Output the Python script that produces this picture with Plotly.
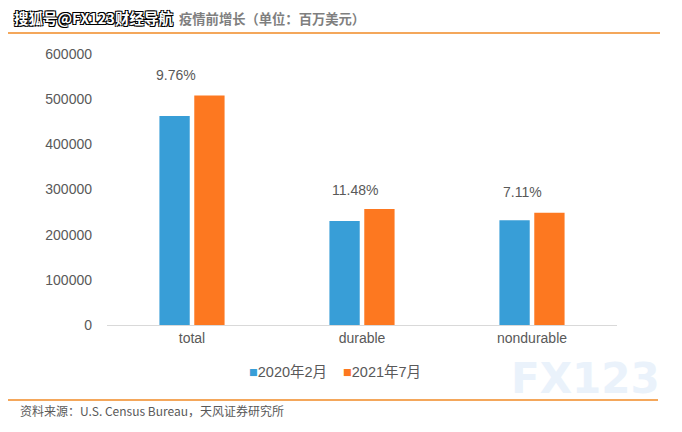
import plotly.graph_objects as go

categories = ["total", "durable", "nondurable"]
series_names = ["2020年2月", "2021年7月"]
feb2020 = [463000, 230500, 232000]
jul2021 = [508200, 257000, 248500]
growth_labels = ["9.76%", "11.48%", "7.11%"]
y_ticks = [0, 100000, 200000, 300000, 400000, 500000, 600000]

title_text = "疫情前增长（单位：百万美元）"
watermark_text = "搜狐号@FX123财经导航"
source_text = "资料来源：U.S. Census Bureau，天风证券研究所"

FONT = "Liberation Sans, Arial, Noto Sans CJK SC, sans-serif"
CJK = "Noto Sans CJK SC, Liberation Sans, sans-serif"
GRAY = "#595959"
BLUE = "#389ed7"
ORANGE = "#fd7820"
colors = [BLUE, ORANGE]

fig = go.Figure()
for name, vals, col in zip(series_names, [feb2020, jul2021], colors):
    fig.add_trace(go.Bar(x=categories, y=vals, name=name,
                         marker=dict(color=col, line=dict(width=0))))

L, R, T, B = 107, 65, 54, 107
W, H = 682, 432
pw, ph = W - L - R, H - T - B

def px(xp):
    return (xp - L) / pw

def py(yp):
    return (H - B - yp) / ph

annotations = []
label_x_shift = [-16, -7, -10]
label_y = [553500, 299000, 294500]
for c, lab, xs, yv in zip(categories, growth_labels, label_x_shift, label_y):
    annotations.append(dict(x=c, y=yv, xref="x", yref="y", text=lab, showarrow=False,
                            xshift=xs, yanchor="middle",
                            font=dict(family=FONT, size=14, color=GRAY)))

# visible part of the title
annotations.append(dict(x=px(177), y=py(18), xref="paper", yref="paper", text="<b>" + title_text + "</b>",
                        showarrow=False, xanchor="left", yanchor="middle",
                        font=dict(family=CJK, size=13.3, color="#7f7f7f")))
# watermark overlay
annotations.append(dict(x=px(12), y=py(17), xref="paper", yref="paper", text="<b>" + watermark_text + "</b>",
                        showarrow=False, xanchor="left", yanchor="middle",
                        font=dict(family=CJK, size=14.5, color="white",
                                  shadow="1px 1px 0 #000, -1px -1px 0 #000, 1px -1px 0 #000, -1px 1px 0 #000")))
# FX123 watermark
annotations.append(dict(x=px(585), y=py(378), xref="paper", yref="paper", text="<b>FX123</b>",
                        showarrow=False, xanchor="center", yanchor="middle",
                        font=dict(family="DejaVu Sans, sans-serif", size=42, color="#eaf2fb")))
# source
annotations.append(dict(x=px(18), y=py(410), xref="paper", yref="paper", text=source_text,
                        showarrow=False, xanchor="left", yanchor="middle",
                        font=dict(family=CJK, size=12, color=GRAY)))
# legend (custom, tight spacing)
legend_x = [247, 341]
for name, col, lx in zip(series_names, colors, legend_x):
    annotations.append(dict(x=px(lx), y=py(372), xref="paper", yref="paper",
                            text=f"<span style='color:{col}'>■</span>{name}",
                            showarrow=False, xanchor="left", yanchor="middle",
                            font=dict(family=FONT, size=14.5, color=GRAY)))

shapes = [
    dict(type="line", xref="paper", yref="paper", x0=px(8), x1=px(660), y0=py(33), y1=py(33),
         line=dict(color="#f08a24", width=1.5)),
    dict(type="line", xref="paper", yref="paper", x0=px(8), x1=px(658), y0=py(400), y1=py(400),
         line=dict(color="#f08a24", width=1.5)),
]

fig.update_layout(
    width=W, height=H,
    margin=dict(l=L, r=R, t=T, b=B, pad=0),
    paper_bgcolor="white", plot_bgcolor="white",
    barmode="group", bargap=0.59, bargroupgap=0.13,
    font=dict(family=FONT, size=14, color=GRAY),
    showlegend=False,
    annotations=annotations,
    shapes=shapes,
)
fig.update_xaxes(showline=True, linecolor="#d9d9d9", linewidth=1, ticks="", showgrid=False,
                 tickfont=dict(family=FONT, size=14, color=GRAY))
fig.update_yaxes(range=[0, 600000], tickvals=y_ticks, ticktext=[str(v) for v in y_ticks],
                 showgrid=False, zeroline=False, showline=False, ticks="",
                 ticklabelstandoff=14,
                 tickfont=dict(family=FONT, size=14, color=GRAY))

fig.write_html("out.html")
